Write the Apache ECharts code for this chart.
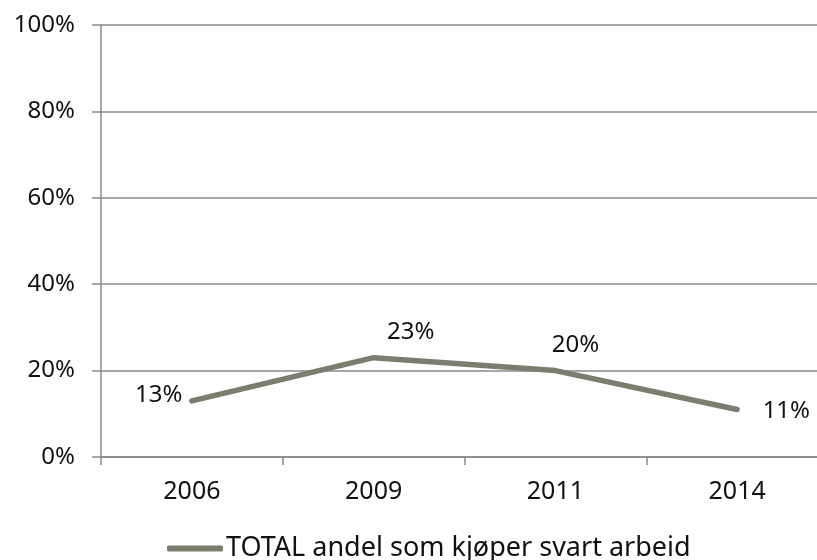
<!DOCTYPE html>
<html>
<head>
<meta charset="utf-8">
<script src="https://cdn.jsdelivr.net/npm/echarts@6/dist/echarts.min.js"></script>
<style>
  html, body { margin: 0; padding: 0; background: #fff; overflow: hidden; }
  /* plot area runs slightly past the right edge, as in the source */
  #chart { width: 828px; height: 560px; }
</style>
</head>
<body>
<div id="chart"></div>
<script>
const years = ['2006', '2009', '2011', '2014']
const total = [13, 23, 20, 11]
const labelPos = ['left', 'top', 'top', 'right']
const seriesName = 'TOTAL andel som kjøper svart arbeid'

const lineColor = '#7b7e6d'
const axisColor = '#8a8a8a'
const font = '"Noto Sans", Lato, "DejaVu Sans", sans-serif'

// nudges so the value labels sit where the source puts them
const labelTweak = [
  { distance: 8, offset: [0, -6] },
  { distance: 12, offset: [37, 0] },
  { distance: 12, offset: [20, 0] },
  { distance: 24, offset: [0, 2] }
]

const chart = echarts.init(document.getElementById('chart'))
chart.setOption({
  animation: false,
  backgroundColor: '#fff',
  textStyle: { fontFamily: font },
  grid: { left: 101, right: 0, top: 25, bottom: 103 },
  legend: {
    top: 530,
    left: 162,
    itemWidth: 56,
    itemHeight: 6,
    itemGap: 4,
    data: [{ name: seriesName, icon: 'roundRect', itemStyle: { color: lineColor } }],
    textStyle: { fontSize: 27, color: '#111', fontFamily: font, padding: [0, 0, 0, -2] }
  },
  xAxis: {
    type: 'category',
    data: years,
    boundaryGap: true,
    axisLine: { lineStyle: { color: axisColor, width: 1.5 } },
    axisTick: { show: true, length: 8, lineStyle: { color: axisColor, width: 1.5 } },
    axisLabel: { color: '#111', fontSize: 25, margin: 22, fontFamily: font }
  },
  yAxis: {
    type: 'value',
    min: 0,
    max: 100,
    interval: 20,
    axisLine: { show: true, lineStyle: { color: axisColor, width: 1.5 } },
    axisTick: { show: true, length: 9, lineStyle: { color: axisColor, width: 1.5 } },
    splitLine: { lineStyle: { color: axisColor, width: 1.5 } },
    axisLabel: { color: '#111', fontSize: 24, margin: 26, formatter: '{value}%', fontFamily: font }
  },
  series: [{
    name: seriesName,
    type: 'line',
    data: total.map((v, i) => ({
      value: v,
      label: { position: labelPos[i], distance: labelTweak[i].distance, offset: labelTweak[i].offset }
    })),
    symbol: 'circle',
    symbolSize: 3,
    lineStyle: { color: lineColor, width: 5.5, cap: 'round', join: 'round' },
    itemStyle: { color: lineColor },
    label: {
      show: true,
      formatter: '{c}%',
      color: '#111',
      fontSize: 24,
      fontFamily: font
    }
  }]
})
</script>
</body>
</html>
